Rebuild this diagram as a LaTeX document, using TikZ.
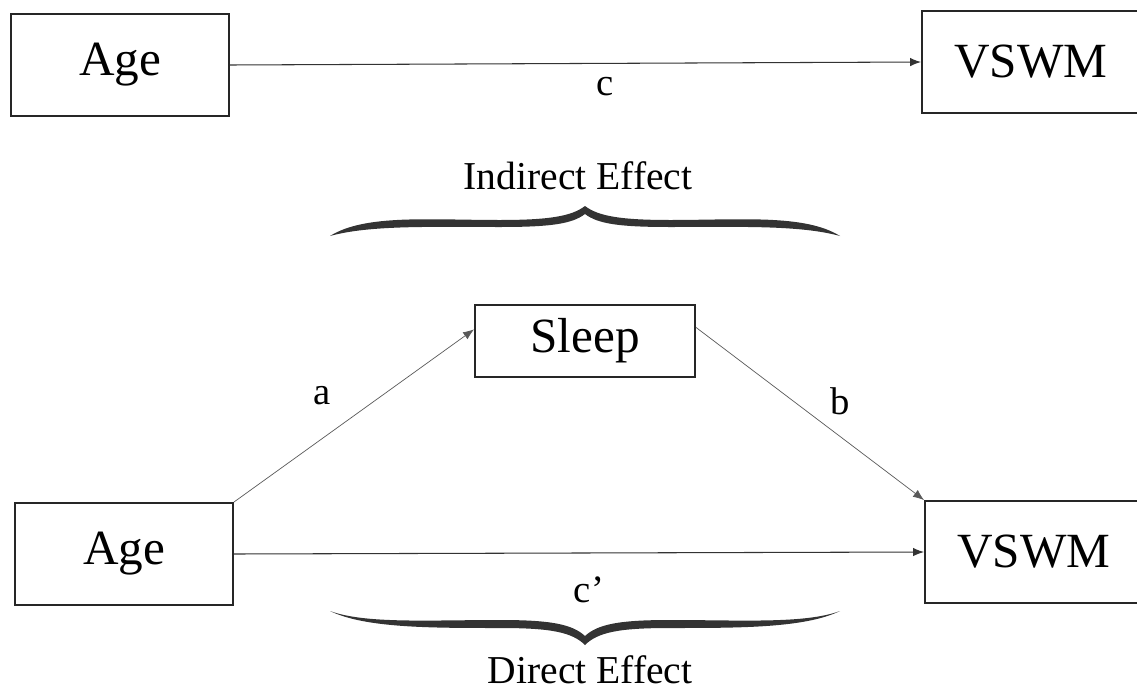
\documentclass[tikz,border=0pt]{standalone}
\usepackage{fontspec}
\setmainfont{Liberation Serif}
\usetikzlibrary{arrows.meta}

\begin{document}
\begin{tikzpicture}[
    x=0.02cm, y=-0.02cm,
    % Variable boxes
    var/.style={draw=black!85, line width=1.1pt, minimum width=4.36cm,
                minimum height=2.04cm, inner sep=0pt,
                font=\fontsize{28}{34}\selectfont},
    medvar/.style={var, minimum width=4.4cm, minimum height=1.44cm},
    % Path labels
    lbl/.style={font=\fontsize{22}{26}\selectfont, inner sep=0pt},
    efflbl/.style={font=\fontsize{22.5}{27}\selectfont, inner sep=0pt},
    % Arrows
    arr/.style={-{Latex[length=2.2mm,width=1.7mm]}, line width=0.6pt, draw=black!80},
    thinarr/.style={arr, line width=0.4pt, draw=black!65},
    % Braces
    brc/.style={fill=black!80, draw=none},
]
\useasboundingbox (0,0) rectangle (1137,690);

%% -- Total effect model --
\node[var]    (age1)  at (120, 65)   {Age};
\node[var]    (vswm1) at (1031, 62)  {VSWM};
\node[lbl]    (c)     at (605, 87)   {c};
\draw[arr] (age1.east) -- (vswm1.west);

%% -- Indirect effect brace --
\node[efflbl] (ind)   at (578, 176)  {Indirect Effect};
\fill[brc] (330,236) .. controls (365,214) and (430,220) .. (500,220)
    .. controls (550,220) and (572,216) .. (585,206)
    .. controls (598,216) and (620,220) .. (670,220)
    .. controls (740,220) and (805,214) .. (840,236)
    .. controls (800,225) and (740,227) .. (670,227)
    .. controls (620,227) and (598,224) .. (585,214)
    .. controls (572,224) and (550,227) .. (500,227)
    .. controls (430,227) and (370,225) .. (330,236) -- cycle;

%% -- Mediation model --
\node[medvar] (sleep) at (585, 341)  {Sleep};
\node[var]    (age2)  at (124, 554)  {Age};
\node[var]    (vswm2) at (1034, 552) {VSWM};
\node[lbl]    (a)     at (322, 396)  {a};
\node[lbl]    (b)     at (840, 401)  {b};
\node[lbl]    (cp)    at (589, 590)  {c’};

\draw[thinarr] (age2.north east) -- (sleep.174);
\draw[thinarr] (sleep.7) -- (vswm2.north west);
\draw[arr] (age2.east) -- (vswm2.west);

%% -- Direct effect brace --
\fill[brc] (330,611) .. controls (365,624) and (430,620) .. (500,620)
    .. controls (550,620) and (572,624) .. (585,636)
    .. controls (598,624) and (620,620) .. (670,620)
    .. controls (740,620) and (805,624) .. (840,611)
    .. controls (805,628) and (740,628) .. (670,628)
    .. controls (620,628) and (598,632) .. (585,645)
    .. controls (572,632) and (550,628) .. (500,628)
    .. controls (430,628) and (365,628) .. (330,611) -- cycle;
\node[efflbl] (dir)   at (590, 670)  {Direct Effect};

\end{tikzpicture}
\end{document}
